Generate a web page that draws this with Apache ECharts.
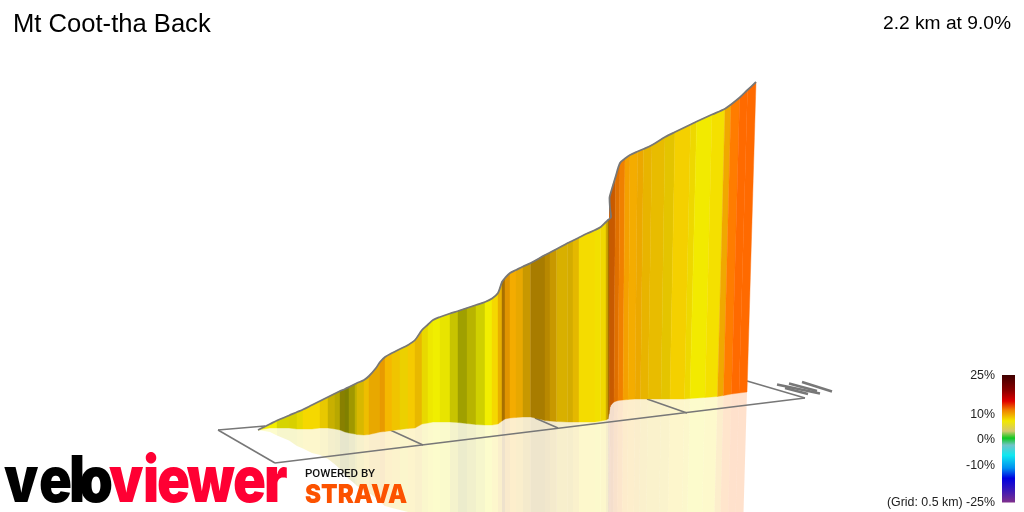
<!DOCTYPE html>
<html>
<head>
<meta charset="utf-8">
<title>Mt Coot-tha Back</title>
<script src="https://cdn.jsdelivr.net/npm/echarts@6/dist/echarts.min.js"></script>
<style>
html, body { margin: 0; padding: 0; background: #fff; }
#chart { width: 1024px; height: 512px; }
</style>
</head>
<body>
<div id="chart"></div>
<script>
// wall stations, left to right (projected position)
var baseX = [258,264,270,277,289,297,303,312,320,328,335,340,345,349,355,357,364,369,376,380,385,392,400,408,415,422,428,433,440,450,458,467,476,485,492,498,502,505,510,516,523,530.7,545,550,556.7,567.7,573,579,587,595,600.7,606,608,609,609.5,610,611,614,618,623,628,635,640.5,648,661,670,684.5,690,705,717.5,723.5,731.5,739,747];
var baseY = [430,429,428,428,428,429,429,429,428,428,429,430,432,433,434,434.5,435,434.5,433,432,431.5,430.5,429.5,428.5,428,424,423,422,422,422,422.5,423.5,424.5,425,425,424,421,419,418,417.5,417,417,420.5,421,421.5,422,422,422,422,422,421,420,419,414,410,407,405,402,400.5,400,399.5,399,399,399,399,399,399,398.5,397.5,396.5,395.5,394,393,392];
var topX = [258,264,270,277,289,297,303,312,320,328,335,340,345,349,355,357,364,369,376,380,385,392,400,408,415,422,428,433,440,450,458,467,476,485,492,498,502,505,510,516,523,530.7,545,550,556.7,567.7,573,579,587,595,600.7,606,608,611,610,609.5,611,615.5,620,625,630,637.5,643.5,652,665,675,690.6,696.7,712,725,731,739.7,747.5,756];
var topY = [430,427,424,420.5,415.5,412,409.5,405,401,397,393.5,391,389,387,384,383,380,376,368,362,357,353,349,345,340,330,324.5,320,317,313.5,311,308,305,302,298.5,293,282,278,273,270,266.5,263,255,252.5,249,243,240.5,237.5,233.5,230,227,222,220,217,208,198,192,177,163,158.5,155,151.5,149,145,137,132,124.5,121.5,114.5,108.7,104.5,97.5,90,82];
// colour of the strip to the right of each station
var stripColors = ['#f4ee00','#f4ee00','#f4ee00','#d6d400','#d8d000','#e6d800','#f5d800','#f5d800','#e8c800','#c8b000','#b8a800','#888000','#808000','#a09800','#c0b000','#d8b800','#eebe00','#e8a800','#e8a800','#e89a00','#f5b800','#f0c400','#ecd000','#f5ca00','#e8b800','#e8d800','#eee800','#f0ee00','#e8e400','#c8c400','#a0a000','#b8b400','#d0d000','#f2ee00','#f5d800','#e8b000','#a87000','#e09400','#f4ac00','#e8a800','#c89800','#a87c00','#b88800','#c89800','#d8b000','#d4ac00','#e4b800','#f4dc00','#f4dc00','#f2e000','#f0d800','#d0a800','#a87000','#a87000','#c85a00','#c85a00','#c85a00','#e07000','#f08000','#f4a000','#f4ac00','#eca800','#e8b400','#e8bc00','#e4c400','#f4d000','#eed800','#f2ea00','#f4e000','#f0a800','#ff7c00','#ff6a00','#ff6a00'];

// ground grid outline and 0.5 km cross lines
var gridLines = [[218,430,275,463],[275,463,805,398],[805,398,747,381],[218,430,265,426],[388,429,423,445],[535,418,558,428],[647,399,687,413]];
// wind / direction marks at the far end of the grid
var arrowLines = [[777,384.5,820,393.5],[785,388,808,394],[789,383.5,817,391],[802,382,832,391.5]];

// colour scale
var scaleLabels = ['25%','10%','0%','-10%','(Grid: 0.5 km) -25%'];
var scaleLabelY = [375,414,439,465,502];
var scaleStops = [0,0.12,0.205,0.275,0.36,0.44,0.495,0.55,0.63,0.73,0.81,0.905,1];
var scaleColors = ['#3f0000','#8a0000','#e00000','#f08000','#f2e800','#d4c870','#10c820','#70c4c8','#10e8f0','#0090f0','#0000e0','#3a18b8','#80308c'];

// logo wordmark, letter by letter since the glyphs overlap
var logoLetters = ['v','e','l','o','v','i','e','w','e','r'];
var logoLetterX = [4,39,69,79,109,143,157,187,233,264];
var logoColors = ['#000','#000','#000','#000','#ff0033','#ff0033','#ff0033','#ff0033','#ff0033','#ff0033'];

var stationIdx = stripColors.map(function (c, i) { return i; });

function stripShape(api, i, mirror) {
	var pts;
	if (mirror) {
		pts = [[baseX[i], baseY[i]], [baseX[i + 1], baseY[i + 1]],
			[2 * baseX[i + 1] - topX[i + 1], 2 * baseY[i + 1] - topY[i + 1]],
			[2 * baseX[i] - topX[i], 2 * baseY[i] - topY[i]]];
	} else {
		pts = [[baseX[i], baseY[i]], [baseX[i + 1], baseY[i + 1]],
			[topX[i + 1], topY[i + 1]], [topX[i], topY[i]]];
	}
	return pts.map(function (p) { return api.coord(p); });
}

function renderSegments(color, width) {
	return function (params, api) {
		var a = api.coord([api.value(0), api.value(1)]);
		var b = api.coord([api.value(2), api.value(3)]);
		return {
			type: 'line',
			shape: { x1: a[0], y1: a[1], x2: b[0], y2: b[1] },
			style: { stroke: color, lineWidth: width }
		};
	};
}

var scaleGraphics = scaleLabels.map(function (t, i) {
	return {
		type: 'text', right: 29, top: scaleLabelY[i] - 5,
		style: { text: t, fill: '#222', font: '12.4px "Liberation Sans"' }
	};
});

var logoGraphics = logoLetters.map(function (t, i) {
	return {
		type: 'text', x: logoLetterX[i], y: 451, scaleX: 0.85, z: 20,
		style: { text: t, fill: logoColors[i], font: '900 64px Inter' }
	};
});

var chart = echarts.init(document.getElementById('chart'), null, { renderer: 'canvas' });
chart.setOption({
	animation: false,
	title: {
		text: 'Mt Coot-tha Back', left: 13, top: 12, padding: 0,
		textStyle: { fontFamily: 'Liberation Sans', fontSize: 25.6, fontWeight: 'normal', color: '#000' }
	},
	grid: { left: 0, right: 0, top: 0, bottom: 0 },
	xAxis: { type: 'value', min: 0, max: 1024, show: false },
	yAxis: { type: 'value', min: 0, max: 512, inverse: true, show: false },
	graphic: [{
		type: 'text', right: 13, top: 14,
		style: { text: '2.2 km at 9.0%', fill: '#000', font: '19.2px "Liberation Sans"' }
	}, {
		type: 'rect', left: 1002, top: 375,
		shape: { width: 13, height: 127.5 },
		style: {
			fill: new echarts.graphic.LinearGradient(0, 0, 0, 1, scaleStops.map(function (s, i) {
				return { offset: s, color: scaleColors[i] };
			}))
		}
	}, {
		type: 'text', x: 305, y: 469, scaleX: 1.15, z: 20,
		style: { text: 'POWERED BY', fill: '#111', font: '500 10px Roboto' }
	}, {
		type: 'text', x: 305, y: 482, scaleX: 0.93, z: 20,
		style: { text: 'STRAVA', fill: '#fc5200', font: '900 26px Inter' }
	}].concat(logoGraphics, scaleGraphics),
	series: [{
		// floor reflection
		type: 'custom', z: 1, silent: true,
		data: stationIdx,
		encode: { x: 0 },
		renderItem: function (params, api) {
			var i = params.dataIndex;
			return {
				type: 'polygon', shape: { points: stripShape(api, i, true) },
				style: { fill: stripColors[i], opacity: 0.2 }
			};
		}
	}, {
		type: 'custom', z: 2, silent: true,
		data: gridLines, renderItem: renderSegments('#777', 1.5)
	}, {
		type: 'custom', z: 2, silent: true,
		data: arrowLines, renderItem: renderSegments('#777', 2.5)
	}, {
		// wall
		type: 'custom', z: 3, silent: true,
		data: stationIdx,
		encode: { x: 0 },
		renderItem: function (params, api) {
			var i = params.dataIndex;
			return {
				type: 'polygon', shape: { points: stripShape(api, i, false) },
				style: { fill: stripColors[i], stroke: stripColors[i], lineWidth: 0.4 }
			};
		}
	}, {
		// profile edge
		type: 'line', z: 4, silent: true, symbol: 'none', smooth: 0.3,
		data: topX.map(function (x, i) { return [x, topY[i]]; }),
		lineStyle: { color: '#777', width: 1.8 }
	}]
});
</script>
</body>
</html>
